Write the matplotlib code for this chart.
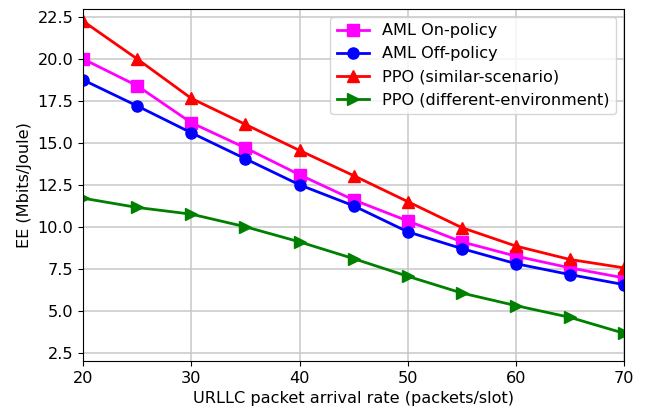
import matplotlib.pyplot as plt
import numpy as np

# arrival rate (packets/slot)
rate = [20, 25, 30, 35, 40, 45, 50, 55, 60, 65, 70]

aml_on = [20.0, 18.4, 16.2, 14.7, 13.1, 11.6, 10.35, 9.1, 8.25, 7.55, 6.95]
aml_off = [18.75, 17.2, 15.6, 14.05, 12.5, 11.25, 9.7, 8.7, 7.8, 7.15, 6.55]
ppo_sim = [22.25, 20.0, 17.65, 16.1, 14.55, 13.05, 11.5, 9.95, 8.85, 8.05, 7.55]
ppo_diff = [11.7, 11.15, 10.75, 10.0, 9.1, 8.1, 7.05, 6.05, 5.3, 4.6, 3.65]

fig, ax = plt.subplots(figsize=(6.5, 4.13), dpi=100)
fig.subplots_adjust(left=0.128, right=0.96, top=0.979, bottom=0.126)

ax.plot(rate, aml_on, color='magenta', marker='s', lw=2, ms=8, label='AML On-policy')
ax.plot(rate, aml_off, color='blue', marker='o', lw=2, ms=8, label='AML Off-policy')
ax.plot(rate, ppo_sim, color='red', marker='^', lw=2, ms=8, label='PPO (similar-scenario)')
ax.plot(rate, ppo_diff, color='green', marker='>', lw=2, ms=8, label='PPO (different-environment)')

ax.set_xlim(20, 70)
ax.set_ylim(2, 23)
ax.set_yticks(np.arange(2.5, 23, 2.5))
ax.set_xlabel('URLLC packet arrival rate (packets/slot)', fontsize=11.6)
ax.set_ylabel('EE (Mbits/Joule)', fontsize=11.6)
ax.tick_params(labelsize=11.6)
ax.grid(True, color='#c8c8c8', lw=1.1)
ax.legend(loc='upper right', fontsize=11.6, borderaxespad=0.5)

plt.savefig('out.png', dpi=100)
